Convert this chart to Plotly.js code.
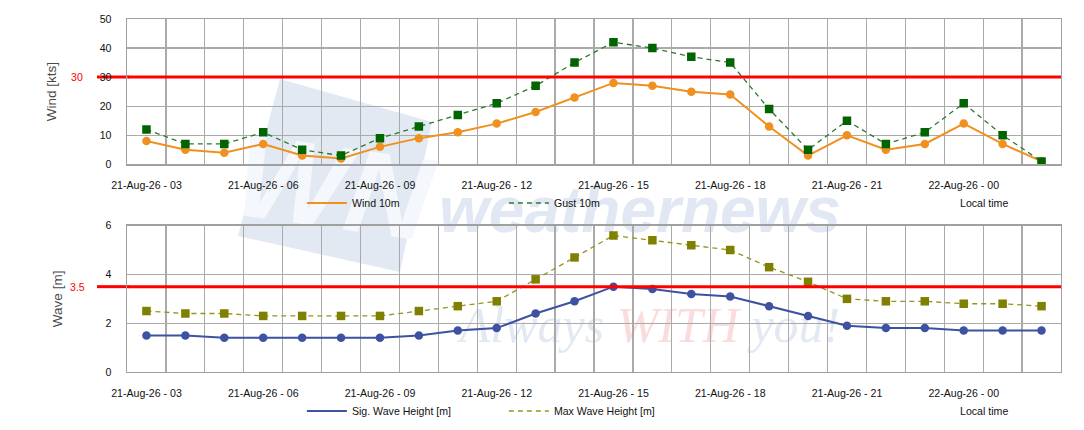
<!DOCTYPE html>
<html>
<head>
<meta charset="utf-8">
<script src="https://cdn.plot.ly/plotly-3.0.1.min.js"></script>
<style>
  html, body { margin: 0; padding: 0; background: #ffffff; }
  #chart { width: 1084px; height: 430px; }
</style>
</head>
<body>
<div id="chart"></div>
<script>
// ---- data ----
const hours = [
  '21-Aug-26 - 03', '21-Aug-26 - 04', '21-Aug-26 - 05', '21-Aug-26 - 06',
  '21-Aug-26 - 07', '21-Aug-26 - 08', '21-Aug-26 - 09', '21-Aug-26 - 10',
  '21-Aug-26 - 11', '21-Aug-26 - 12', '21-Aug-26 - 13', '21-Aug-26 - 14',
  '21-Aug-26 - 15', '21-Aug-26 - 16', '21-Aug-26 - 17', '21-Aug-26 - 18',
  '21-Aug-26 - 19', '21-Aug-26 - 20', '21-Aug-26 - 21', '21-Aug-26 - 22',
  '21-Aug-26 - 23', '22-Aug-26 - 00', '22-Aug-26 - 01', '22-Aug-26 - 02'
];
const tickLabels = [
  '21-Aug-26 - 03', '', '', '21-Aug-26 - 06', '', '', '21-Aug-26 - 09', '', '',
  '21-Aug-26 - 12', '', '', '21-Aug-26 - 15', '', '', '21-Aug-26 - 18', '', '',
  '21-Aug-26 - 21', '', '', '22-Aug-26 - 00', '', ''
];
const wind10m = [8, 5, 4, 7, 3, 2, 6, 9, 11, 14, 18, 23, 28, 27, 25, 24, 13, 3, 10, 5, 7, 14, 7, 1];
const gust10m = [12, 7, 7, 11, 5, 3, 9, 13, 17, 21, 27, 35, 42, 40, 37, 35, 19, 5, 15, 7, 11, 21, 10, 1];
const sigWave = [1.5, 1.5, 1.4, 1.4, 1.4, 1.4, 1.4, 1.5, 1.7, 1.8, 2.4, 2.9, 3.5, 3.4, 3.2, 3.1, 2.7, 2.3, 1.9, 1.8, 1.8, 1.7, 1.7, 1.7];
const maxWave = [2.5, 2.4, 2.4, 2.3, 2.3, 2.3, 2.3, 2.5, 2.7, 2.9, 3.8, 4.7, 5.6, 5.4, 5.2, 5.0, 4.3, 3.7, 3.0, 2.9, 2.9, 2.8, 2.8, 2.7];
const windLimit = 30;
const waveLimit = 3.5;
const windTicks = [0, 10, 20, 30, 40, 50];
const waveTicks = [0, 2, 4, 6];

// ---- styles ----
const FONT = 'Liberation Sans, Arial, sans-serif';
const FS = 10.6;
const C_WIND = '#f0901f';
const C_GUST_M = '#006400';
const C_GUST_L = '#2b7a2b';
const C_SIG = '#3d52a0';
const C_MAX_M = '#7f7f00';
const C_MAX_L = '#95951c';
const GRID = '#aaaaaa';
const FRAME = '#a0a0a0';

function lineTrace(x, y, name, color, width, dash, xa, ya, legend) {
  return { x: x, y: y, name: name, type: 'scatter', mode: 'lines',
    line: { color: color, width: width, dash: dash },
    xaxis: xa, yaxis: ya, legend: legend, hoverinfo: 'skip' };
}
function markerTrace(x, y, name, color, symbol, size, xa, ya) {
  return { x: x, y: y, name: name, type: 'scatter', mode: 'markers',
    marker: { color: color, symbol: symbol, size: size, line: { width: 0 } },
    xaxis: xa, yaxis: ya, showlegend: false, hoverinfo: 'skip' };
}

const traces = [
  lineTrace(hours, wind10m, 'Wind 10m', C_WIND, 2, 'solid', 'x', 'y', 'legend'),
  markerTrace(hours, wind10m, 'Wind 10m', C_WIND, 'circle', 8.5, 'x', 'y'),
  lineTrace(hours, gust10m, 'Gust 10m', C_GUST_L, 1.3, '5px,4px', 'x', 'y', 'legend'),
  markerTrace(hours, gust10m, 'Gust 10m', C_GUST_M, 'square', 8.5, 'x', 'y'),
  lineTrace(hours, sigWave, 'Sig. Wave Height [m]', C_SIG, 2, 'solid', 'x2', 'y2', 'legend2'),
  markerTrace(hours, sigWave, 'Sig. Wave Height [m]', C_SIG, 'circle', 8.5, 'x2', 'y2'),
  lineTrace(hours, maxWave, 'Max Wave Height [m]', C_MAX_L, 1.3, '5px,4px', 'x2', 'y2', 'legend2'),
  markerTrace(hours, maxWave, 'Max Wave Height [m]', C_MAX_M, 'square', 8.5, 'x2', 'y2')
];

function xAxis(anchor) {
  return {
    type: 'category', anchor: anchor, range: [-0.5, hours.length - 0.5],
    tickmode: 'array', tickvals: hours, ticktext: tickLabels,
    tickson: 'boundaries', ticks: '', ticklabelstandoff: 11,
    showgrid: true, gridcolor: GRID, gridwidth: 1.2,
    showline: true, mirror: true, linecolor: FRAME, linewidth: 1.4,
    zeroline: false, tickangle: 0,
    tickfont: { family: FONT, size: FS, color: '#111111' }
  };
}
function yAxis(domain, range, ticks, title, anchor) {
  return {
    domain: domain, anchor: anchor, range: range,
    tickmode: 'array', tickvals: ticks, ticks: '', ticklabelstandoff: 12,
    showgrid: true, gridcolor: GRID, gridwidth: 1.2,
    showline: true, mirror: true, linecolor: FRAME, linewidth: 1.4,
    zeroline: false,
    tickfont: { family: FONT, size: FS, color: '#111111' },
    title: { text: title, standoff: 40, font: { family: FONT, size: 13.5, color: '#4a4a4a' } }
  };
}

const legendBase = {
  orientation: 'h', xref: 'container', yref: 'container',
  xanchor: 'left', yanchor: 'middle', x: 0.2785,
  entrywidth: 147, itemwidth: 40, bgcolor: 'rgba(0,0,0,0)',
  font: { family: FONT, size: FS, color: '#111111' }, itemclick: false, itemdoubleclick: false
};

const layout = {
  width: 1084, height: 430,
  margin: { l: 127, r: 23, t: 19, b: 58, autoexpand: false },
  paper_bgcolor: '#ffffff', plot_bgcolor: 'rgba(0,0,0,0)',
  font: { family: FONT, size: FS, color: '#111111' },
  xaxis: xAxis('y'),
  yaxis: yAxis([0.5884, 1], [0, 50], windTicks, 'Wind [kts]', 'x'),
  xaxis2: xAxis('y2'),
  yaxis2: yAxis([0, 0.4144], [0, 6], waveTicks, 'Wave [m]', 'x2'),
  legend: Object.assign({}, legendBase, { y: 0.5279 }),
  legend2: Object.assign({}, legendBase, { y: 0.0442 }),
  shapes: [
    // watermark logo (decorative, behind the grid)
    { type: 'path', xref: 'paper', yref: 'paper', layer: 'below',
      path: 'M0.1638,0.8300 L0.3266,0.7082 L0.2923,0.2833 L0.1188,0.3853 Z',
      fillcolor: '#e3e9f3', line: { width: 0 } },
    { type: 'rect', xref: 'paper', yref: 'paper', layer: 'below',
      x0: 0.1317, x1: 0.3137, y0: 0.3399, y1: 0.7705,
      fillcolor: 'rgba(0,0,0,0)', line: { width: 0 },
      label: { text: '<b><i>WN</i></b>', textposition: 'middle center', textangle: 8,
        font: { family: FONT, size: 118, color: '#f4f7fb' } } },
    { type: 'rect', xref: 'paper', yref: 'paper', layer: 'below',
      x0: 0.3244, x1: 0.7741, y0: 0.3796, y1: 0.5722,
      fillcolor: 'rgba(0,0,0,0)', line: { width: 0 },
      label: { text: '<b><i>weathernews</i></b>', textposition: 'middle center',
        font: { family: FONT, size: 64, color: '#e1e8f3' } } },
    { type: 'rect', xref: 'paper', yref: 'paper', layer: 'below',
      x0: 0.3458, x1: 0.7741, y0: 0.0765, y1: 0.2181,
      fillcolor: 'rgba(0,0,0,0)', line: { width: 0 },
      label: { text: '<i>Always <span style="color:#fbdcdc">WITH</span> you!</i>', textposition: 'middle center',
        font: { family: 'Liberation Serif, Times New Roman, serif', size: 50, color: '#e3e9f2' } } },
    // limit lines: stub left of the plot (behind tick labels) and main line across the plot
    { type: 'line', xref: 'paper', yref: 'y', layer: 'below',
      x0: -0.0321, x1: 0.002, y0: windLimit, y1: windLimit,
      line: { color: '#ff0000', width: 3 } },
    { type: 'line', xref: 'paper', yref: 'y', layer: 'above',
      x0: 0.0008, x1: 1, y0: windLimit, y1: windLimit,
      line: { color: '#ff0000', width: 3 } },
    { type: 'line', xref: 'paper', yref: 'y2', layer: 'below',
      x0: -0.0321, x1: 0.002, y0: waveLimit, y1: waveLimit,
      line: { color: '#ff0000', width: 3 } },
    { type: 'line', xref: 'paper', yref: 'y2', layer: 'above',
      x0: 0.0008, x1: 1, y0: waveLimit, y1: waveLimit,
      line: { color: '#ff0000', width: 3 } }
  ],
  annotations: [
    { xref: 'paper', yref: 'y', x: -0.0535, y: windLimit, text: String(windLimit),
      showarrow: false, xanchor: 'center', yanchor: 'middle',
      font: { family: FONT, size: FS, color: '#ff0000' } },
    { xref: 'paper', yref: 'y2', x: -0.0535, y: waveLimit, text: String(waveLimit),
      showarrow: false, xanchor: 'center', yanchor: 'middle',
      font: { family: FONT, size: FS, color: '#ff0000' } },
    { xref: 'paper', yref: 'paper', x: 0.9176, y: 0.4788, text: 'Local time',
      showarrow: false, xanchor: 'center', yanchor: 'middle',
      font: { family: FONT, size: FS, color: '#111111' } },
    { xref: 'paper', yref: 'paper', x: 0.9176, y: -0.1105, text: 'Local time',
      showarrow: false, xanchor: 'center', yanchor: 'middle',
      font: { family: FONT, size: FS, color: '#111111' } }
  ]
};

Plotly.newPlot('chart', traces, layout, { staticPlot: true, displayModeBar: false });
</script>
</body>
</html>
